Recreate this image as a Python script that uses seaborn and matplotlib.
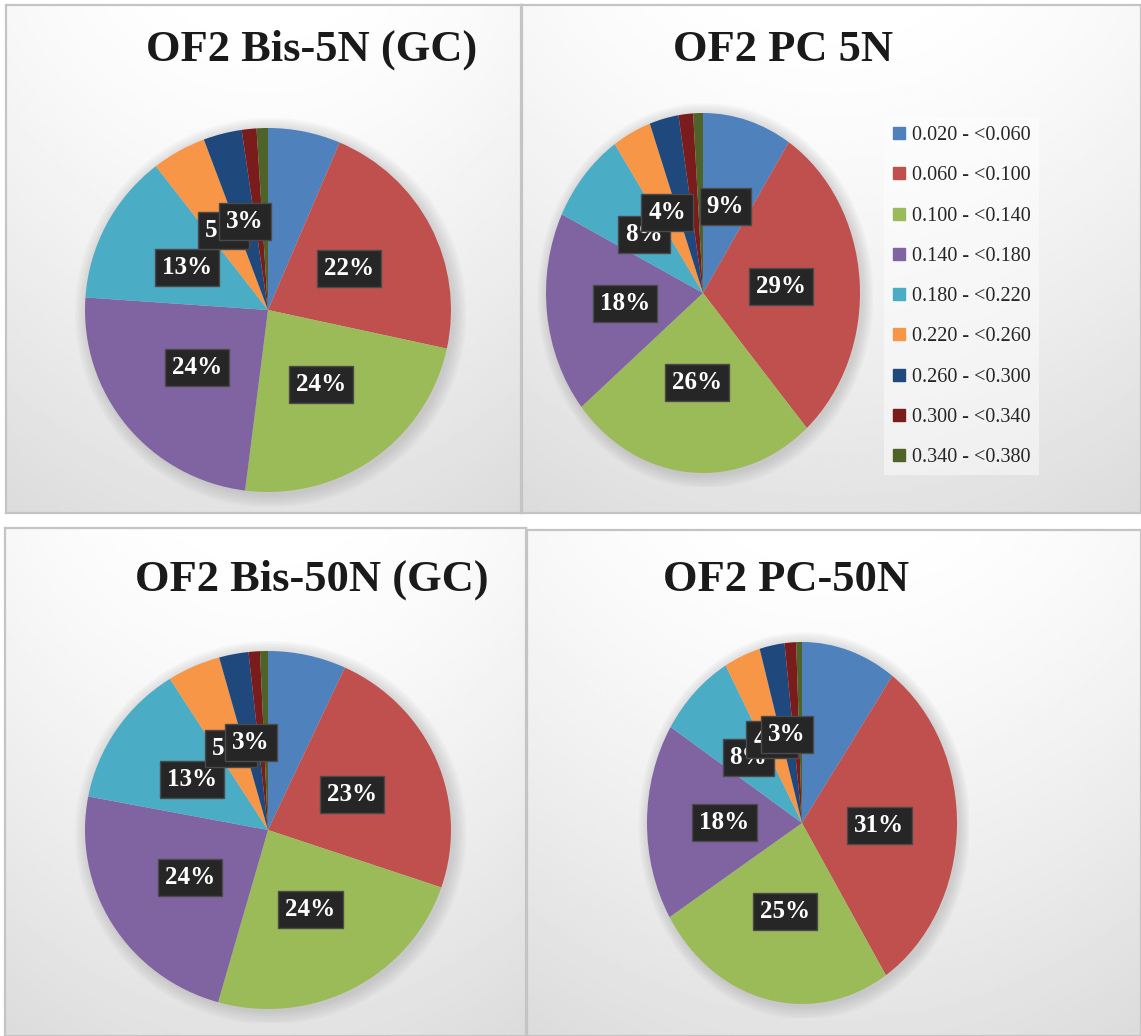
import matplotlib.pyplot as plt
import numpy as np
import seaborn as sns
from matplotlib.lines import Line2D
from matplotlib.patches import Ellipse

# ranges shared by all four pies
bins = [
    "0.020 - <0.060",
    "0.060 - <0.100",
    "0.100 - <0.140",
    "0.140 - <0.180",
    "0.180 - <0.220",
    "0.220 - <0.260",
    "0.260 - <0.300",
    "0.300 - <0.340",
    "0.340 - <0.380",
]
slice_colors = ["#4F81BD", "#C0504D", "#9BBB59", "#8064A2", "#4BACC6",
                "#F79646", "#1F497D", "#7B1C1C", "#4F6228"]

# percentage share of each range
bis_5n = [6.4, 22.0, 23.6, 24.1, 13.4, 4.8, 3.4, 1.3, 1.0]
pc_5n = [9.2, 29.3, 25.6, 18.1, 8.3, 4.0, 3.0, 1.5, 1.0]
bis_50n = [6.9, 23.3, 24.2, 23.6, 13.0, 4.7, 2.6, 1.0, 0.7]
pc_50n = [9.9, 31.0, 25.4, 17.6, 7.9, 3.8, 2.6, 1.2, 0.6]

titles = ["OF2 Bis-5N (GC)", "OF2 PC 5N", "OF2 Bis-50N (GC)", "OF2 PC-50N"]

# which data labels are visible in each pie
shown_bis = [False, True, True, True, True, True, True, False, False]
shown_pc5 = [True, True, True, True, True, True, False, False, False]
shown_pc50 = [False, True, True, True, True, True, True, False, False]

W, H = 1141, 1036

# panel layout in pixels: frame, title centre, pie centre, radii
panels = [
    dict(data=bis_5n, title=titles[0], shown=shown_bis, frame=(6, 5, 521, 513),
         title_xy=(312, 50), center=(268, 310), radii=(183, 182)),
    dict(data=pc_5n, title=titles[1], shown=shown_pc5, frame=(522, 5, 1141, 513),
         title_xy=(783, 50), center=(703, 293), radii=(157, 180)),
    dict(data=bis_50n, title=titles[2], shown=shown_bis, frame=(5, 528, 526, 1036),
         title_xy=(312, 580), center=(268, 830), radii=(183, 179)),
    dict(data=pc_50n, title=titles[3], shown=shown_pc50, frame=(527, 530, 1141, 1036),
         title_xy=(786, 580), center=(802, 823), radii=(155, 181)),
]


def px_rect(x0, y0, x1, y1):
    return [x0 / W, 1 - y1 / H, (x1 - x0) / W, (y1 - y0) / H]


def draw_background(fig, frame):
    ax = fig.add_axes(px_rect(*frame))
    yy, xx = np.mgrid[0:1:200j, 0:1:200j]
    shade = 1 - 0.11 * (1 - yy) ** 1.3 - 0.03 * (2 * np.abs(xx - 0.5)) ** 2
    ax.imshow(shade, cmap="gray", vmin=0, vmax=1, extent=[0, 1, 0, 1],
              origin="lower", aspect="auto", interpolation="bilinear")
    ax.set_xticks([])
    ax.set_yticks([])
    for sp in ax.spines.values():
        sp.set_color("#c4c4c4")
        sp.set_linewidth(1.6)
    return ax


def draw_pie(fig, values, shown, center, radii):
    m = 1.08
    cx, cy = center
    rx, ry = radii
    ax = fig.add_axes(px_rect(cx - rx * m, cy - ry * m, cx + rx * m, cy + ry * m))
    # soft glow behind the pie
    for k in np.linspace(0.07, 0.005, 7):
        ax.add_patch(Ellipse((0.015, -0.015), 2 + 2 * k, 2 + 2 * k, color="#7f7f7f",
                             alpha=0.045, lw=0, zorder=0))
    wedges, _, autotexts = ax.pie(
        values,
        colors=slice_colors,
        startangle=90,
        counterclock=False,
        autopct="%1.0f%%",
        pctdistance=0.5,
        wedgeprops=dict(linewidth=0),
    )
    for t, show in zip(autotexts, shown):
        if not show:
            t.set_visible(False)
            continue
        t.set_color("white")
        t.set_fontsize(18)
        t.set_fontweight("bold")
        t.set_bbox(dict(boxstyle="square,pad=0.28", facecolor="#262626",
                        edgecolor="#4a4a4a", linewidth=1))
    ax.set_aspect("auto")
    ax.set_xlim(-m, m)
    ax.set_ylim(-m, m)
    ax.axis("off")
    return ax


def main() -> None:
    sns.set_theme(style="white")
    plt.rcParams["font.family"] = ["Liberation Serif", "DejaVu Serif"]

    fig = plt.figure(figsize=(W / 100, H / 100), dpi=100)
    fig.patch.set_facecolor("white")

    for p in panels:
        draw_background(fig, p["frame"])
        draw_pie(fig, p["data"], p["shown"], p["center"], p["radii"])
        tx, ty = p["title_xy"]
        fig.text(tx / W, 1 - ty / H, p["title"], ha="center", va="center",
                 fontsize=32, fontweight="bold", color="#1a1a1a")

    handles = [Line2D([], [], marker="s", linestyle="none", markersize=9,
                      markerfacecolor=c, markeredgecolor=c) for c in slice_colors]
    leg = fig.legend(handles, bins, loc="upper left", bbox_to_anchor=(874 / W, 1 - 108 / H),
                     fontsize=14.5, labelspacing=1.05, handlelength=0.7, handletextpad=0.3,
                     borderpad=0.4, frameon=True, fancybox=False)
    leg.get_frame().set_facecolor("white")
    leg.get_frame().set_alpha(0.45)
    leg.get_frame().set_linewidth(0)
    for txt in leg.get_texts():
        txt.set_color("#262626")

    fig.savefig("out.png", dpi=100)
    plt.close(fig)


if __name__ == "__main__":
    main()
